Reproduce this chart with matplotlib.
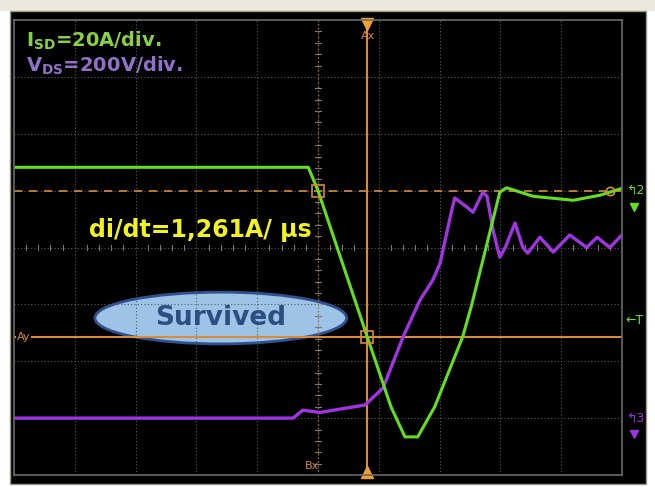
import matplotlib
matplotlib.use("Agg")
import matplotlib.pyplot as plt
from matplotlib.patches import Rectangle, Ellipse

# screen in divisions: 10 x 8
isd_x = [0.0, 4.84, 5.0, 5.81, 6.2, 6.43, 6.64, 6.92, 7.38, 7.53, 7.99, 8.1, 8.54, 9.2, 9.64, 10.0]
isd_y = [5.41, 5.41, 5.0, 2.43, 1.2, 0.67, 0.67, 1.2, 2.43, 3.0, 4.97, 5.05, 4.9, 4.83, 4.92, 5.04]

vds_x = [0.0, 4.59, 4.75, 5.03, 5.77, 6.07, 6.40, 6.68, 6.89, 7.01, 7.20, 7.25, 7.45,
         7.55, 7.71, 7.78, 7.88, 7.99, 8.08, 8.24, 8.37, 8.45, 8.65, 8.87, 9.14, 9.42,
         9.59, 9.80, 10.0]
vds_y = [1.0, 1.0, 1.14, 1.1, 1.23, 1.53, 2.43, 3.08, 3.43, 3.73, 4.66, 4.87, 4.71,
         4.62, 4.97, 4.9, 4.3, 3.83, 4.0, 4.43, 4.0, 3.9, 4.18, 3.92, 4.22, 4.0,
         4.18, 4.0, 4.22]

ax_cursor = 5.81
bx_cursor = 5.0
ay_cursor = 2.43
by_cursor = 5.0

W, H = 655, 487
fig = plt.figure(figsize=(W / 100, H / 100), dpi=100)
fig.patch.set_facecolor("white")

# scope screen background
fig.patches.append(Rectangle((0, 1 - 11 / H), 1, 11 / H, transform=fig.transFigure,
                             facecolor="#ece8dc", edgecolor="none", zorder=-10))
fig.patches.append(Rectangle((10 / W, 1 - 484 / H), 636 / W, 473 / H, transform=fig.transFigure,
                             facecolor="black", edgecolor="#9a9a8a", linewidth=1, zorder=-10))

ax = fig.add_axes([14 / W, 12 / H, 608 / W, 455 / H])
ax.set_facecolor("black")
ax.set_xlim(0, 10)
ax.set_ylim(0, 8)
ax.set_xticks([])
ax.set_yticks([])
for s in ax.spines.values():
    s.set_color("#6a6a6a")
    s.set_linewidth(1.2)

# graticule
grid_col = "#5a5a5a"
for i in range(1, 10):
    ax.axvline(i, color=grid_col, lw=0.8, ls=(0, (1, 2)))
for j in range(1, 8):
    ax.axhline(j, color=grid_col, lw=0.8, ls=(0, (1, 2)))
for k in range(1, 50):
    t = k / 5
    if k % 5:
        ax.plot([t, t], [3.95, 4.05], color="#777777", lw=0.8)
for k in range(1, 40):
    t = k / 5
    if k % 5:
        ax.plot([4.95, 5.05], [t, t], color="#777777", lw=0.8)

# cursors
cur = "#d98a3a"
ax.axvline(ax_cursor, color=cur, lw=1.5)
ax.axhline(ay_cursor, color=cur, lw=1.5)
ax.axhline(by_cursor, color=cur, lw=1.2, ls=(0, (5, 4)))
ax.axvline(bx_cursor, color=cur, lw=1.0, ls=(0, (1, 2)), alpha=0.7)

# traces
ax.plot(vds_x, vds_y, color="#a034e0", lw=2.4, solid_joinstyle="round")
ax.plot(isd_x, isd_y, color="#62e020", lw=2.2, solid_joinstyle="round")

# cursor markers
ax.plot([bx_cursor, ax_cursor], [by_cursor, ay_cursor], ls="none", marker="s", ms=8,
        mfc="none", mec=cur, mew=1.2)
ax.plot([9.8], [5.0], ls="none", marker="o", ms=6, mfc="none", mec=cur, mew=1.2)
ax.plot([ax_cursor], [7.93], marker="v", ms=8, color="#f0a030", clip_on=False)
ax.plot([ax_cursor], [0.06], marker="^", ms=8, color="#f0a030", clip_on=False)
ax.text(ax_cursor - 0.1, 7.72, "Ax", color=cur, fontsize=8, ha="left", va="center")
ax.text(bx_cursor - 0.1, 0.15, "Bx", color=cur, fontsize=8, ha="center", va="center")
ax.text(0.04, ay_cursor, "Ay", color=cur, fontsize=8, ha="left", va="center",
        bbox=dict(facecolor="black", edgecolor="none", pad=0.5))

# channel markers on the right edge
ax.text(10.08, 5.0, "\u21b02", color="#62e020", fontsize=9, ha="left", va="center", clip_on=False)
ax.plot([10.2], [4.72], marker="v", ms=6, color="#62e020", clip_on=False)
ax.text(10.06, 2.72, "\u2190T", color="#62e020", fontsize=9, ha="left", va="center", clip_on=False)
ax.text(10.08, 1.0, "\u21b03", color="#a034e0", fontsize=9, ha="left", va="center", clip_on=False)
ax.plot([10.2], [0.72], marker="v", ms=6, color="#a034e0", clip_on=False)

# labels
ax.text(0.2, 7.63, r"I$_{\mathbf{SD}}$=20A/div.", color="#88d044", fontsize=14,
        fontweight="bold", ha="left", va="center")
ax.text(0.2, 7.2, r"V$_{\mathbf{DS}}$=200V/div.", color="#9270cc", fontsize=14,
        fontweight="bold", ha="left", va="center")
ax.text(4.9, 4.3, "di/dt=1,261A/ \u00b5s", color="#f2f21e", fontsize=17,
        fontweight="bold", ha="right", va="center")

# annotation ellipse
ax.add_patch(Ellipse((3.4, 2.76), 4.14, 0.91, facecolor="#9dc3e6", edgecolor="#2f528f", lw=2))
ax.text(3.4, 2.76, "Survived", color="#2a4f80", fontsize=19, fontweight="bold",
        ha="center", va="center")

fig.savefig("out.png", dpi=100, facecolor=fig.get_facecolor())
